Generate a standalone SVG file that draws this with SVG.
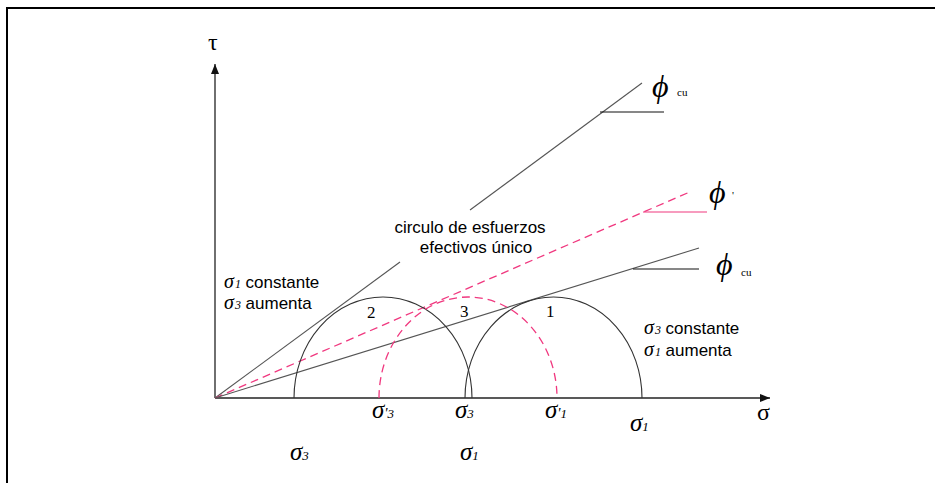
<svg xmlns="http://www.w3.org/2000/svg" width="935" height="483" viewBox="0 0 935 483">
<style>
.ax{stroke:#222;stroke-width:1.3;fill:none}
.gl{stroke:#555;stroke-width:1.1;fill:none}
.bk{stroke:#111;stroke-width:1.1;fill:none}
.pk{stroke:#f0387f;stroke-width:1.2;fill:none}
.pd{stroke:#f0387f;stroke-width:1.3;fill:none;stroke-dasharray:8 5}
.cir{stroke:#333;stroke-width:1.1;fill:none}
.sans{font-family:"Liberation Sans",Arial,sans-serif;font-size:17px;fill:#000}
.sg{font-family:"Liberation Serif","DejaVu Serif",serif;font-style:italic;fill:#000}
.num{font-family:"Liberation Serif",serif;font-size:17px;fill:#000}
.phi{font-family:"Liberation Serif","DejaVu Serif",serif;font-style:italic;font-size:32px;fill:#000}
.cu{font-family:"Liberation Serif",serif;font-size:11px;fill:#000}
</style>
<defs>
<marker id="ah" markerWidth="10" markerHeight="8" refX="10" refY="4" orient="auto" markerUnits="userSpaceOnUse">
<path d="M0,0 L10,4 L0,8 Z" fill="#111"/>
</marker>
</defs>
<rect x="0" y="0" width="935" height="483" fill="#fff"/>
<rect id="frame" x="7" y="8" width="1000" height="1000" fill="none" stroke="#000" stroke-width="2"/>
<g id="connectors">
<line id="yaxis" class="ax" x1="215" y1="398" x2="215" y2="64" marker-end="url(#ah)"/>
<line id="xaxis" class="ax" x1="215" y1="398" x2="770" y2="398" marker-end="url(#ah)"/>
<line class="gl" x1="215" y1="398" x2="400" y2="262"/>
<line class="gl" x1="470" y1="210" x2="642" y2="83"/>
<line class="bk" x1="600" y1="112" x2="664" y2="112"/>
<line class="pd" x1="215" y1="398" x2="692" y2="191"/>
<line class="pk" x1="643" y1="212" x2="707" y2="212"/>
<line class="gl" x1="215" y1="398" x2="699" y2="248"/>
<line class="bk" x1="633" y1="269" x2="699" y2="269"/>
</g>
<g id="circle2"><path class="cir" d="M294,398 A89,101 0 0 1 472,398"/><text class="num" x="367" y="318">2</text></g>
<g id="circle1"><path class="cir" d="M465,398 A88.5,101 0 0 1 642,398"/><text class="num" x="546" y="317">1</text></g>
<g id="circle3"><path class="pd" d="M379,398 A89,101 0 0 1 557,398"/><text class="num" x="460" y="317">3</text></g>
<g id="tau"><text x="208" y="50" font-family="Liberation Serif,serif" font-size="24" fill="#000">τ</text></g>
<g id="sigma-axis"><text x="757" y="420" font-family="Liberation Serif,serif" font-size="24" fill="#000">σ</text></g>
<g id="phi-cu-upper"><text class="phi" x="652" y="97">ϕ</text><text class="cu" x="677" y="96">cu</text></g>
<g id="phi-prime"><text class="phi" x="709" y="203">ϕ</text><text class="cu" x="732" y="199" font-size="15">'</text></g>
<g id="phi-cu-lower"><text class="phi" x="716" y="275">ϕ</text><text class="cu" x="741" y="276">cu</text></g>
<g id="label-unique"><text class="sans" x="470" y="233" text-anchor="middle">circulo de esfuerzos</text><text class="sans" x="476" y="253" text-anchor="middle">efectivos único</text></g>
<g id="label-left"><text class="sans" x="224" y="288"><tspan class="sg" font-size="20">σ</tspan><tspan class="sg" font-size="12" dx="1">1</tspan> constante</text><text class="sans" x="224" y="309"><tspan class="sg" font-size="20">σ</tspan><tspan class="sg" font-size="12" dx="1">3</tspan> aumenta</text></g>
<g id="label-right"><text class="sans" x="644" y="334"><tspan class="sg" font-size="20">σ</tspan><tspan class="sg" font-size="12" dx="1">3</tspan> constante</text><text class="sans" x="644" y="356"><tspan class="sg" font-size="20">σ</tspan><tspan class="sg" font-size="12" dx="1">1</tspan> aumenta</text></g>
<g id="sigma-labels">
<text class="sg" x="372" y="418" font-size="25">σ<tspan font-size="15">'</tspan><tspan font-size="13">3</tspan></text>
<text class="sg" x="455" y="418" font-size="25">σ<tspan font-size="13">3</tspan></text>
<text class="sg" x="545" y="418" font-size="25">σ<tspan font-size="15">'</tspan><tspan font-size="13">1</tspan></text>
<text class="sg" x="630" y="431" font-size="25">σ<tspan font-size="13">1</tspan></text>
<text class="sg" x="290" y="460" font-size="25">σ<tspan font-size="13">3</tspan></text>
<text class="sg" x="460" y="460" font-size="25">σ<tspan font-size="13">1</tspan></text>
</g>
</svg>
